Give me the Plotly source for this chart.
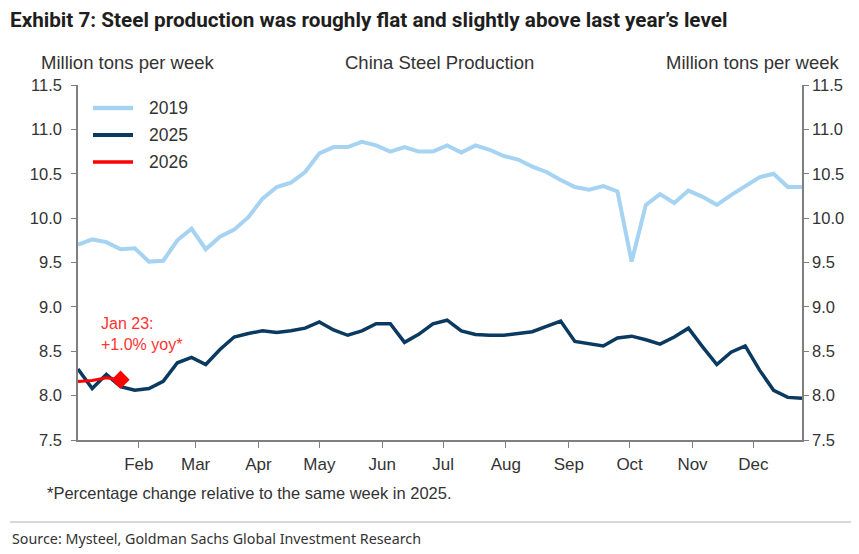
import plotly.graph_objects as go
import pandas as pd

# Weekly x positions (common calendar used for all years)
weeks = pd.date_range("2025-01-02", periods=52, freq="7D")

y2019 = [9.70, 9.76, 9.73, 9.65, 9.66, 9.51, 9.52, 9.75, 9.88, 9.65,
         9.79, 9.87, 10.01, 10.22, 10.35, 10.40, 10.52, 10.73, 10.80, 10.80,
         10.86, 10.82, 10.75, 10.80, 10.75, 10.75, 10.82, 10.74, 10.82, 10.77,
         10.70, 10.66, 10.58, 10.52, 10.43, 10.35, 10.32, 10.36, 10.30, 9.51,
         10.15, 10.27, 10.17, 10.31, 10.24, 10.15, 10.26, 10.36, 10.46, 10.50,
         10.35, 10.35]

y2025 = [8.30, 8.08, 8.24, 8.10, 8.06, 8.08, 8.16, 8.37, 8.43, 8.35,
         8.52, 8.66, 8.70, 8.73, 8.71, 8.73, 8.76, 8.83, 8.74, 8.68,
         8.73, 8.81, 8.81, 8.60, 8.69, 8.81, 8.85, 8.73, 8.69, 8.68,
         8.68, 8.70, 8.72, 8.78, 8.84, 8.61, 8.58, 8.56, 8.65, 8.67,
         8.63, 8.58, 8.66, 8.76, 8.55, 8.35, 8.49, 8.56, 8.29, 8.06,
         7.98, 7.97]

y2026 = [8.16, 8.17, 8.20, 8.18]

series_names = ["2019", "2025", "2026"]
series_colors = ["#a6d3f2", "#0b3a60", "#ff0000"]
series_widths = [4, 3.5, 3]

month_ticks = ["2025-02-01", "2025-03-01", "2025-04-01", "2025-05-01", "2025-06-01",
               "2025-07-01", "2025-08-01", "2025-09-01", "2025-10-01", "2025-11-01",
               "2025-12-01"]
month_labels = ["Feb", "Mar", "Apr", "May", "Jun", "Jul", "Aug", "Sep", "Oct", "Nov", "Dec"]

y_ticks = [7.5, 8.0, 8.5, 9.0, 9.5, 10.0, 10.5, 11.0, 11.5]

FONT = "Liberation Sans, Arial, sans-serif"
AXIS_COLOR = "#7f7f7f"
TEXT_COLOR = "#333333"

# page offset (browser body margin) compensation: figure drawn 8px in from top-left
OFF = 8
W, H = 859 - OFF, 554 - OFF
PL, PR, PT, PB = 78, 802, 85, 440  # plot area in page pixels


def px(x):
    return (x - PL) / (PR - PL)


def py(y):
    return (PB - y) / (PB - PT)


fig = go.Figure()
all_y = [y2019, y2025, y2026]
for name, yy, col, wd in zip(series_names, all_y, series_colors, series_widths):
    fig.add_trace(go.Scatter(x=weeks[:len(yy)], y=yy, mode="lines", name=name,
                             line=dict(color=col, width=wd), showlegend=False))
fig.add_trace(go.Scatter(x=[weeks[len(y2026) - 1]], y=[y2026[-1]], mode="markers",
                         marker=dict(symbol="diamond", size=14, color="#ff0000"),
                         showlegend=False))
# invisible trace so the right axis is drawn
fig.add_trace(go.Scatter(x=[weeks[0]], y=[y2019[0]], yaxis="y2", mode="markers",
                         marker=dict(opacity=0), showlegend=False, hoverinfo="skip"))

fig.update_layout(
    width=W, height=H,
    margin=dict(l=PL - OFF, r=W - (PR - OFF), t=PT - OFF, b=H - (PB - OFF)),
    paper_bgcolor="white", plot_bgcolor="white",
    font=dict(family=FONT, size=17, color=TEXT_COLOR),
    title=dict(text="<b>Exhibit 7: Steel production was roughly flat and slightly above last year\u2019s level</b>",
               x=(10 - OFF) / W, xanchor="left", xref="container",
               y=1 - (20 - OFF) / H, yanchor="middle", yref="container",
               font=dict(family="Roboto, Liberation Sans, sans-serif", size=20.7, color="#1e1e1e")),
    showlegend=False,
    xaxis=dict(type="date", range=["2025-01-02", "2025-12-25"],
               tickvals=month_ticks, ticktext=month_labels,
               ticks="outside", ticklen=6, tickcolor=AXIS_COLOR,
               showline=True, linecolor=AXIS_COLOR, linewidth=1.5,
               showgrid=False, zeroline=False, ticklabelstandoff=2,
               tickfont=dict(size=17, color=TEXT_COLOR)),
    yaxis=dict(range=[7.5, 11.5], tickvals=y_ticks, tickformat=".1f",
               ticks="outside", ticklen=5, tickcolor=AXIS_COLOR,
               showline=True, linecolor=AXIS_COLOR, linewidth=1.5,
               showgrid=False, zeroline=False, ticklabelstandoff=6,
               tickfont=dict(size=16.5, color=TEXT_COLOR)),
    yaxis2=dict(range=[7.5, 11.5], tickvals=y_ticks, tickformat=".1f",
                overlaying="y", side="right", anchor="x",
                ticks="outside", ticklen=5, tickcolor=AXIS_COLOR,
                showline=True, linecolor=AXIS_COLOR, linewidth=1.5,
                showgrid=False, zeroline=False,
                tickfont=dict(size=16.5, color=TEXT_COLOR)),
)

# custom legend
legend_rows = [108, 135, 162]
for name, col, wd, ry in zip(series_names, series_colors, series_widths, legend_rows):
    fig.add_shape(type="line", xref="paper", yref="paper",
                  x0=px(93), x1=px(133), y0=py(ry), y1=py(ry),
                  line=dict(color=col, width=wd + 0.5))
    fig.add_annotation(text=name, xref="paper", yref="paper", x=px(147), y=py(ry),
                       xanchor="left", yanchor="middle", showarrow=False,
                       font=dict(size=17.5, color=TEXT_COLOR))

headers = [("Million tons per week", 127), ("China Steel Production", 439),
           ("Million tons per week", 752)]
for txt, hx in headers:
    fig.add_annotation(text=txt, xref="paper", yref="paper", x=px(hx), y=py(62),
                       xanchor="center", yanchor="middle", showarrow=False,
                       font=dict(size=18.5, color=TEXT_COLOR))

fig.add_annotation(text="Jan 23:<br>+1.0% yoy*", xref="paper", yref="paper",
                   x=px(99), y=py(334), xanchor="left", yanchor="middle",
                   align="left", showarrow=False,
                   font=dict(size=16, color="#ff3333"))

fig.add_annotation(text="*Percentage change relative to the same week in 2025.",
                   xref="paper", yref="paper", x=px(45), y=py(493),
                   xanchor="left", yanchor="middle", showarrow=False,
                   font=dict(size=16.5, color=TEXT_COLOR))

fig.add_annotation(text="Source: Mysteel, Goldman Sachs Global Investment Research",
                   xref="paper", yref="paper", x=px(10), y=py(538),
                   xanchor="left", yanchor="middle", showarrow=False,
                   font=dict(family="Noto Sans, sans-serif", size=14.3, color="#333333"))

fig.add_shape(type="line", xref="paper", yref="paper",
              x0=px(10), x1=px(870), y0=py(522), y1=py(522),
              line=dict(color="#b0b0b0", width=1))

fig.write_html("out.html")
